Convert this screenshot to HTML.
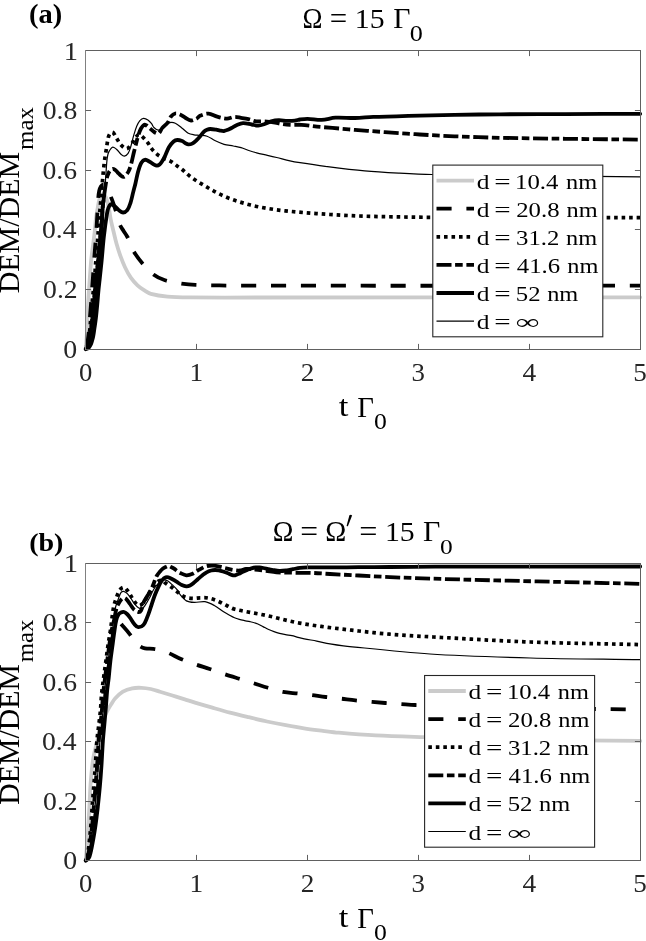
<!DOCTYPE html>
<html><head><meta charset="utf-8"><style>
html,body{margin:0;padding:0;background:#fff;overflow:hidden}
svg{display:block;will-change:transform}
text{font-family:"Liberation Serif",serif;font-kerning:none}
</style></head><body>
<svg width="646" height="941" viewBox="0 0 646 941">
<rect width="646" height="941" fill="#fff"/>
<g fill="none" stroke-linejoin="round" stroke-linecap="round">
<path class="cgray" d="M85.7 349.2C85.9 346.8 86.12 344.4 86.3 342C86.52 339 86.76 336 86.9 333C87.13 328 87.2 323 87.4 318C87.57 313.67 87.75 309.33 88 305C88.29 300 88.66 295 89 290C89.29 285.67 89.58 281.33 89.9 277C90.32 271.33 90.68 265.66 91.2 260C91.51 256.66 91.98 253.33 92.4 250C92.82 246.66 93.28 243.34 93.7 240C94.12 236.67 94.55 233.34 94.9 230C95.32 226.01 95.49 221.98 96 218C96.43 214.65 97.11 211.33 97.7 208C98.17 205.33 98.51 202.61 99.2 200C99.61 198.44 100.15 196.8 101 195.5C101.42 194.86 102.36 194.12 103 194.2C103.76 194.29 104.73 195.21 105.2 196C106.17 197.64 106.76 199.62 107.3 201.5C108.1 204.28 108.66 207.15 109.2 210C109.79 213.08 110.08 216.22 110.7 219.3C111.55 223.49 112.61 227.64 113.6 231.8C114.51 235.64 115.34 239.5 116.4 243.3C117.57 247.47 118.83 251.63 120.3 255.7C121.7 259.59 123.22 263.47 125 267.2C126.72 270.8 128.54 274.43 130.8 277.7C132.71 280.46 135.05 283 137.5 285.3C139.45 287.13 141.73 288.66 144 290.1C146.2 291.49 148.41 293.11 150.9 293.8C156.28 295.28 161.99 296.08 167.6 296.6C175.02 297.28 182.53 297.33 190 297.4C213.33 297.63 236.67 297.51 260 297.5C386.73 297.47 513.47 297.37 640.2 297.3" stroke="#cbcbcb" stroke-width="3.8" stroke-dashoffset="0"/>
<path class="cdash" d="M85.7 349.2C86.2 347.47 86.87 345.77 87.2 344C87.87 340.37 88.32 336.68 88.7 333C89.22 328.01 89.5 323 89.9 318C90.27 313.33 90.65 308.67 91 304C91.35 299.33 91.66 294.67 92 290C92.29 286 92.61 282 92.9 278C93.28 272.67 93.62 267.33 94 262C94.29 258 94.59 254 94.9 250C95.16 246.67 95.45 243.33 95.7 240C95.95 236.67 96.19 233.33 96.4 230C96.72 225 97.02 220 97.3 215C97.58 210 97.71 204.99 98.1 200C98.34 196.99 98.58 193.94 99.2 191C99.55 189.37 100.13 187.66 101 186.3C101.5 185.53 102.49 184.68 103.3 184.6C104.09 184.52 105.2 185.15 105.8 185.8C106.86 186.95 107.62 188.53 108.3 190C109.32 192.19 110.04 194.53 110.9 196.8C111.78 199.13 112.69 201.45 113.5 203.8C114.66 207.18 115.76 210.58 116.8 214C117.86 217.51 118.45 221.22 119.8 224.6C120.71 226.88 122.3 228.88 123.6 231C124.84 233.02 126.29 234.91 127.4 237C128.59 239.25 129.48 241.66 130.5 244C131.58 246.46 132.31 249.12 133.7 251.4C136.24 255.55 139.13 259.59 142.3 263.3C145.7 267.29 149.25 271.39 153.4 274.5C156.81 277.06 160.92 278.98 165 280.3C170.29 282.01 175.96 282.76 181.5 283.6C186.13 284.3 190.82 284.74 195.5 284.9C210.32 285.41 225.17 285.57 240 285.6C373.4 285.84 506.8 285.67 640.2 285.7" stroke="#000" stroke-width="3.8" stroke-dasharray="15.1 14.8" stroke-linecap="butt" stroke-dashoffset="27.48"/>
<path class="cdot" d="M85.7 349.2C86.4 347.47 87.38 345.81 87.8 344C88.64 340.41 89.07 336.68 89.5 333C90.07 328.02 90.37 323 90.8 318C91.2 313.33 91.57 308.66 92 304C92.37 300 92.78 296 93.2 292C93.62 288 94.15 284.01 94.5 280C94.85 276.01 95.01 272 95.3 268C95.61 263.67 95.94 259.33 96.3 255C96.58 251.66 96.92 248.34 97.2 245C97.56 240.67 97.87 236.33 98.2 232C98.63 226.33 99.03 220.66 99.5 215C99.83 211 100.25 207 100.6 203C100.95 199 101.25 195 101.6 191C102.15 184.67 102.69 178.33 103.3 172C103.69 168 104.07 163.99 104.6 160C105.04 156.65 105.65 153.33 106.2 150C106.89 145.83 107.35 141.59 108.3 137.5C108.62 136.13 109.21 134.71 110 133.6C110.44 132.98 111.32 132.35 112 132.3C112.59 132.25 113.39 132.77 113.8 133.3C114.92 134.74 115.63 136.59 116.6 138.2C117.93 140.39 118.97 142.88 120.7 144.7C122.3 146.38 124.78 148.9 126.6 148.7C128.48 148.5 130.29 145.41 131.8 143.5C133.25 141.67 134.05 139.31 135.5 137.5C136.45 136.31 137.79 134.53 139 134.5C140.29 134.47 141.82 136.19 143 137.3C144.79 138.99 146.41 140.93 147.9 142.9C149.28 144.73 150.16 146.93 151.6 148.7C153.39 150.9 155.38 153.05 157.6 154.8C159.52 156.31 161.8 157.4 164 158.5C166.13 159.57 168.53 160.13 170.6 161.3C172.9 162.6 174.93 164.37 177.1 165.9C178.66 167 180.31 168 181.8 169.2C184.98 171.77 187.8 174.8 191.1 177.2C195.27 180.23 199.77 182.84 204.2 185.5C208.47 188.07 212.75 190.67 217.2 192.9C222.01 195.31 226.94 197.57 232 199.4C238.08 201.6 244.33 203.43 250.6 205C256.73 206.53 262.96 207.71 269.2 208.7C276.59 209.88 284.04 210.79 291.5 211.5C304.24 212.72 317.02 213.68 329.8 214.5C341.42 215.25 353.06 215.8 364.7 216.2C376.29 216.6 387.9 216.7 399.5 216.9C409.57 217.07 419.63 217.27 429.7 217.3C499.87 217.53 570.03 217.57 640.2 217.7" stroke="#000" stroke-width="3.7" stroke-dasharray="3.6 3.9" stroke-linecap="butt" stroke-dashoffset="4.61"/>
<path d="M85.7 349.2C86.47 347.63 87.52 346.16 88 344.5C89.08 340.76 89.76 336.86 90.4 333C91.23 328.03 91.81 323.01 92.4 318C92.95 313.34 93.37 308.67 93.8 304C94.23 299.34 94.55 294.66 95 290C95.39 286 95.87 282 96.3 278C96.87 272.67 97.47 267.34 98 262C98.4 258 98.74 254 99.1 250C99.4 246.67 99.68 243.33 100 240C100.28 237 100.61 234 100.9 231C101.25 227.33 101.62 223.67 101.9 220C102.22 215.67 102.3 211.32 102.7 207C103.07 202.99 103.7 199 104.2 195" stroke="#000" stroke-width="3.8" stroke-linecap="butt"/>
<path class="cdashdot" d="M85.7 349.2C86.47 347.63 87.52 346.16 88 344.5C89.08 340.76 89.76 336.86 90.4 333C91.23 328.03 91.81 323.01 92.4 318C92.95 313.34 93.37 308.67 93.8 304C94.23 299.34 94.55 294.66 95 290C95.39 286 95.87 282 96.3 278C96.87 272.67 97.47 267.34 98 262C98.4 258 98.74 254 99.1 250C99.4 246.67 99.68 243.33 100 240C100.28 237 100.61 234 100.9 231C101.25 227.33 101.62 223.67 101.9 220C102.22 215.67 102.3 211.32 102.7 207C103.07 202.99 103.66 198.99 104.2 195C104.69 191.33 105.21 187.66 105.8 184C106.15 181.82 106.48 179.63 107 177.5C107.31 176.23 107.78 175 108.3 173.8C108.78 172.7 109.23 171.49 110 170.6C110.67 169.82 111.69 168.95 112.6 168.8C113.35 168.68 114.31 169.31 115 169.8C115.94 170.47 116.65 171.48 117.5 172.3C118.79 173.55 120 174.92 121.4 176C122 176.46 122.81 176.9 123.5 176.9C124.11 176.9 124.85 176.48 125.3 176C126.52 174.68 127.69 173.13 128.5 171.5C129.59 169.3 130.33 166.88 131 164.5C132.03 160.88 132.71 157.16 133.6 153.5C134.21 150.99 134.86 148.5 135.5 146C136.42 142.43 137.2 138.81 138.3 135.3C139.03 132.98 139.85 130.62 141 128.5C141.75 127.12 142.81 125.45 144 124.8C144.65 124.45 145.77 125.07 146.5 125.5C147.54 126.11 148.36 127.11 149.3 127.9C151.16 129.45 152.87 131.3 154.9 132.5C155.97 133.13 157.7 133.96 158.6 133.4C160.17 132.43 160.89 129.59 162.3 127.9C163.99 125.89 166.32 124.38 167.9 122.3C169.22 120.58 169.63 118.13 171 116.5C172.09 115.2 173.73 113.87 175.3 113.5C176.7 113.17 178.48 113.81 179.9 114.4C181.71 115.15 183.25 116.55 185 117.5C186.99 118.58 189.02 120.3 191.1 120.5C192.88 120.67 194.91 119.49 196.6 118.6C197.88 117.93 198.67 116.36 200 115.8C202.64 114.69 205.71 113.45 208.5 113.6C211.44 113.75 214.24 115.9 217.2 116.7C220.4 117.57 223.74 118.56 227 118.6C229.44 118.63 231.85 117.04 234.3 116.9C236.51 116.77 238.77 117.45 241 117.8C243.47 118.19 245.96 118.53 248.4 119.1C250.96 119.7 253.42 120.9 256 121.3C258.12 121.63 260.34 121.18 262.5 121.3C266.11 121.51 269.72 121.8 273.3 122.3C276.22 122.7 279.08 123.56 282 124C284.65 124.4 287.33 124.69 290 124.8C293.79 124.96 297.61 124.55 301.4 124.8C306.58 125.15 311.73 126.08 316.9 126.6C322.06 127.12 327.23 127.45 332.4 127.9C339.93 128.55 347.46 129.3 355 129.9C364.93 130.7 374.86 131.39 384.8 132.1C396.43 132.93 408.06 133.8 419.7 134.5C431.29 135.2 442.89 135.82 454.5 136.3C469.66 136.92 484.83 137.46 500 137.8C521.9 138.29 543.8 138.52 565.7 138.8C590.53 139.12 615.37 139.33 640.2 139.6" stroke="#000" stroke-width="3.8" stroke-dasharray="15 3.6 7.6 3.7" stroke-linecap="butt" stroke-dashoffset="25.31"/>
<path class="csolid" d="M85.7 349.2C86.3 349 86.97 348.92 87.5 348.6C88.17 348.19 88.8 347.62 89.3 347C89.9 346.25 90.4 345.38 90.8 344.5C91.3 343.38 91.65 342.18 92 341C92.45 339.51 92.91 338.02 93.2 336.5C93.74 333.69 94.09 330.84 94.5 328C94.99 324.67 95.51 321.34 95.9 318C96.44 313.34 96.87 308.67 97.3 304C97.73 299.34 98.05 294.66 98.5 290C98.82 286.66 99.24 283.33 99.6 280C100.31 273.33 101.05 266.67 101.7 260C102.35 253.34 102.83 246.66 103.5 240C103.83 236.66 104.29 233.33 104.7 230C105.05 227.16 105.38 224.33 105.8 221.5C106.35 217.83 106.75 214.1 107.6 210.5C108.01 208.76 108.68 206.96 109.6 205.5C109.98 204.89 110.87 204.14 111.5 204.3C112.87 204.64 114.33 205.98 115.6 207C116.83 207.98 117.74 209.38 119 210.3C120.24 211.21 121.74 212.52 123.1 212.5C124.5 212.48 126.38 211.4 127.3 210.2C128.85 208.17 129.67 205.35 130.5 202.8C131.64 199.31 132.29 195.66 133.2 192.1C133.96 189.13 134.79 186.18 135.5 183.2C136.39 179.48 137.01 175.69 138 172C138.68 169.46 139.43 166.89 140.5 164.5C141.1 163.15 142.02 161.87 143 160.8C143.45 160.31 144.16 159.9 144.8 159.8C145.49 159.7 146.33 159.9 147 160.2C148.43 160.83 149.76 161.76 151.1 162.6C152.09 163.22 152.97 164.07 154 164.6C154.9 165.07 155.95 165.63 156.9 165.6C157.82 165.57 158.85 165 159.6 164.4C160.55 163.63 161.33 162.55 162 161.5C163.16 159.69 164.16 157.74 165.1 155.8C166.46 153.01 167.33 149.95 168.9 147.3C170.16 145.18 171.77 143.07 173.6 141.5C174.6 140.64 176.1 140.06 177.4 140C178.93 139.93 180.62 140.52 182.1 141.1C183.32 141.58 184.33 142.58 185.5 143.2C186.39 143.68 187.33 144.34 188.3 144.4C189.57 144.48 191.04 144.17 192.2 143.6C193.67 142.87 194.96 141.63 196.2 140.5C197.56 139.27 198.79 137.88 200 136.5C201.39 134.92 202.5 133.04 204 131.6C204.83 130.8 205.94 130.25 207 129.8C207.97 129.39 209.05 129.01 210.1 129C212.15 128.98 214.25 129.37 216.3 129.7C217.55 129.9 218.75 130.39 220 130.6C221.32 130.82 222.69 131.13 224 131C225.36 130.86 226.71 130.31 228 129.8C229.21 129.31 230.34 128.62 231.5 128C233.34 127.02 235.08 125.8 237 125C238.92 124.2 240.96 123.27 243 123.2C245.86 123.1 248.8 124.04 251.7 124.5C253.87 124.84 256.05 125.68 258.2 125.6C260.38 125.52 262.59 124.7 264.7 124C266.92 123.27 268.95 121.91 271.2 121.3C273.65 120.64 276.26 120.26 278.8 120.2C281.66 120.14 284.53 120.87 287.4 120.94C289.93 121 292.49 120.89 295 120.6C296.69 120.41 298.31 119.74 300 119.5C302.51 119.14 305.06 118.75 307.6 118.8C312.26 118.89 316.95 120.08 321.6 119.9C326.25 119.72 330.83 117.97 335.5 117.7C341.97 117.33 348.51 118.14 355 118C361.07 117.87 367.13 117.14 373.2 116.9C380.93 116.59 388.67 116.58 396.4 116.36C404.17 116.14 411.93 115.81 419.7 115.6C431.3 115.29 442.9 115 454.5 114.81C469.67 114.56 484.83 114.4 500 114.3C521.9 114.16 543.8 114.18 565.7 114.1C590.53 114.01 615.37 113.9 640.2 113.8" stroke="#000" stroke-width="3.8" stroke-dashoffset="0"/>
<path class="cthin" d="M85.7 349.2C86.67 347.8 88 346.57 88.6 345C89.93 341.5 90.74 337.71 91.5 334C92.58 328.71 93.39 323.35 94.1 318C94.72 313.35 95.07 308.67 95.5 304C95.93 299.34 96.25 294.66 96.7 290C97.09 286 97.57 282 98 278C98.57 272.67 99.17 267.34 99.7 262C100.1 258 100.44 254 100.8 250C101.1 246.67 101.42 243.33 101.7 240C101.98 236.67 102.23 233.33 102.5 230C102.77 226.67 103.13 223.34 103.3 220C103.5 216.01 103.41 212 103.6 208C103.84 203 104.26 198 104.6 193C104.89 188.67 105.2 184.33 105.5 180C105.73 176.67 105.95 173.33 106.2 170C106.45 166.67 106.63 163.32 107 160C107.23 157.99 107.48 155.95 108 154C108.32 152.81 108.86 151.65 109.5 150.6C110.2 149.45 111 148.09 112 147.4C112.5 147.06 113.42 147.23 114 147.5C115.08 148 116.12 148.84 117 149.7C118.35 151.01 119.3 152.77 120.7 154C121.76 154.93 123.21 156.3 124.4 156.2C125.68 156.1 127.25 154.63 128.1 153.4C129.32 151.63 129.94 149.32 130.6 147.2C131.81 143.32 132.55 139.3 133.7 135.4C134.62 132.27 135.54 129.1 136.8 126.1C137.61 124.17 138.55 122.13 139.9 120.6C140.82 119.56 142.31 118.5 143.6 118.4C144.98 118.3 146.65 119.17 147.9 120C149.32 120.94 150.52 122.35 151.6 123.7C152.52 124.85 152.85 126.52 153.9 127.5C155.18 128.69 157.11 130.42 158.6 130.2C160.51 129.92 162.19 127.29 164.1 126C165.89 124.79 167.7 123.2 169.7 122.7C171.43 122.27 173.64 122.49 175.3 123.2C177.67 124.22 179.68 126.27 181.8 127.9C184.01 129.6 185.92 131.84 188.3 133.2C189.95 134.14 192 134.44 193.9 134.8C195.67 135.14 197.5 135.11 199.3 135.3C201.87 135.57 204.6 135.39 207 136.2C209.76 137.13 212.12 139.22 214.8 140.5C217.79 141.92 220.84 143.36 224 144.3C227 145.19 230.21 145.4 233.3 146C235.91 146.5 238.56 146.86 241.1 147.6C243.73 148.36 246.21 149.61 248.8 150.5C251.37 151.38 253.97 152.22 256.6 152.9C260.17 153.82 263.81 154.48 267.4 155.3C270.51 156.01 273.61 156.73 276.7 157.5C281.14 158.6 285.54 159.9 290 160.9C293.3 161.64 296.65 162.19 300 162.7C308.39 163.99 316.78 165.23 325.2 166.3C338.35 167.97 351.51 169.67 364.7 170.9C376.27 171.97 387.89 172.58 399.5 173.2C410.33 173.78 421.16 174.34 432 174.5C501.39 175.54 570.8 176.03 640.2 176.8" stroke="#000" stroke-width="1.2" stroke-dashoffset="0"/>
</g>
<g stroke="#606060" stroke-width="1" fill="none" stroke-linecap="square">
<path d="M85.5 50.5H640.5M85.5 349.5H640.5M640.5 50.5V349.5"/>
<path d="M85.5 50.5V349.5" stroke="#808080"/>
<path d="M196.5 349.5V343.9M196.5 50.5V56.1M307.5 349.5V343.9M307.5 50.5V56.1M418.5 349.5V343.9M418.5 50.5V56.1M529.5 349.5V343.9M529.5 50.5V56.1M85.5 289.5H91.1M640.5 289.5H634.9M85.5 229.5H91.1M640.5 229.5H634.9M85.5 170.5H91.1M640.5 170.5H634.9M85.5 110.5H91.1M640.5 110.5H634.9" stroke-linecap="butt"/>
</g>
<g fill="#262626">
<text transform="translate(63.32 357.95) scale(1.1000 1)" font-size="25.341">0</text>
<text transform="translate(43.11 298.14) scale(1.1000 1)" font-size="25.177">0.2</text>
<text transform="translate(42.01 238.44) scale(1.1000 1)" font-size="25.177">0.4</text>
<text transform="translate(42.41 178.74) scale(1.1000 1)" font-size="25.177">0.6</text>
<text transform="translate(42.64 119.04) scale(1.1000 1)" font-size="25.177">0.8</text>
<text transform="translate(63.66 59.7) scale(1.1000 1)" font-size="25.903">1</text>
<text transform="translate(79.02 381.06) scale(1.0800 1)" font-size="24.748">0</text>
<text transform="translate(189.39 381.3) scale(1.0800 1)" font-size="25.297">1</text>
<text transform="translate(300.84 381.3) scale(1.0800 1)" font-size="25.222">2</text>
<text transform="translate(411.57 381.06) scale(1.0800 1)" font-size="24.856">3</text>
<text transform="translate(522.4 381.3) scale(1.0800 1)" font-size="25.372">4</text>
<text transform="translate(633.16 381.05) scale(1.0800 1)" font-size="25.130">5</text>
</g>
<g fill="#000">
<text transform="translate(302.41 27.9) scale(0.9177 1)" font-size="29.300">Ω</text>
<text transform="translate(329.66 28.84) scale(0.9793 1)" font-size="31.600">=</text>
<text transform="translate(354.78 27.83) scale(1.0612 1)" font-size="28.063">15</text>
<text transform="translate(393.14 27.9) scale(1.0484 1)" font-size="28.406">Γ</text>
<text transform="translate(409.7 40.68) scale(1.1861 1)" font-size="22.080">0</text>
<text transform="translate(28.95 23.02) scale(1.0496 1)" font-size="27.130" font-weight="bold">(a)</text>
<text transform="translate(338.76 415.71) scale(1.1832 1)" font-size="29.332">t</text>
<text transform="translate(357.17 416.9) scale(0.9983 1)" font-size="28.864">Γ</text>
<text transform="translate(374.02 429.28) scale(1.1647 1)" font-size="22.080">0</text>
<text transform="translate(18.82 293.36) rotate(-90) scale(1.0505 1)" font-size="28.552">DEM/DEM</text>
<text transform="translate(33.38 149.92) rotate(-90) scale(1.1181 1)" font-size="22.247">max</text>
</g>
<rect x="432.8" y="165.1" width="170" height="171.7" fill="#fff" stroke="#262626" stroke-width="1.1"/>
<g fill="none">
<path d="M436.5 180.6H474" stroke="#cbcbcb" stroke-width="3.8" stroke-linecap="butt"/>
<path d="M436.5 208.7H474" stroke="#000" stroke-width="3.8" stroke-dasharray="15.1 14.8"  stroke-linecap="butt"/>
<path d="M436.5 236.8H474" stroke="#000" stroke-width="3.7" stroke-dasharray="3.6 3.9"  stroke-linecap="butt"/>
<path d="M436.5 264.9H474" stroke="#000" stroke-width="3.8" stroke-dasharray="15 3.6 7.6 3.7"  stroke-linecap="butt"/>
<path d="M436.5 293H474" stroke="#000" stroke-width="3.8" stroke-linecap="butt"/>
<path d="M436.5 321.1H474" stroke="#000" stroke-width="1.2" stroke-linecap="butt"/>
</g>
<g fill="#000">
<text transform="translate(476.68 188.6) scale(1.2241 1)" font-size="20.800">d</text>
<text transform="translate(494.26 188.6) scale(1.3948 1)" font-size="20.800">=</text>
<text transform="translate(515.12 188.6) scale(1.1900 1)" font-size="20.800">10.4</text>
<text transform="translate(565.99 188.6) scale(1.1716 1)" font-size="20.800">nm</text>
<text transform="translate(476.68 216.7) scale(1.2241 1)" font-size="20.800">d</text>
<text transform="translate(494.26 216.7) scale(1.3948 1)" font-size="20.800">=</text>
<text transform="translate(516.21 216.7) scale(1.1900 1)" font-size="20.800">20.8</text>
<text transform="translate(566.53 216.7) scale(1.1716 1)" font-size="20.800">nm</text>
<text transform="translate(476.68 244.8) scale(1.2241 1)" font-size="20.800">d</text>
<text transform="translate(494.26 244.8) scale(1.3948 1)" font-size="20.800">=</text>
<text transform="translate(516.12 244.8) scale(1.1900 1)" font-size="20.800">31.2</text>
<text transform="translate(566.01 244.8) scale(1.1716 1)" font-size="20.800">nm</text>
<text transform="translate(476.68 272.9) scale(1.2241 1)" font-size="20.800">d</text>
<text transform="translate(494.26 272.9) scale(1.3948 1)" font-size="20.800">=</text>
<text transform="translate(516.82 272.9) scale(1.1900 1)" font-size="20.800">41.6</text>
<text transform="translate(567.34 272.9) scale(1.1716 1)" font-size="20.800">nm</text>
<text transform="translate(476.68 301) scale(1.2241 1)" font-size="20.800">d</text>
<text transform="translate(494.26 301) scale(1.3948 1)" font-size="20.800">=</text>
<text transform="translate(515.86 301) scale(1.1900 1)" font-size="20.800">52</text>
<text transform="translate(547.19 301) scale(1.1716 1)" font-size="20.800">nm</text>
<text transform="translate(476.68 329.1) scale(1.2241 1)" font-size="20.800">d</text>
<text transform="translate(494.26 329.1) scale(1.3948 1)" font-size="20.800">=</text>
<text transform="translate(515.32 329.1) scale(1.6373 1)" font-size="20.800">∞</text>
</g>
<g fill="none" stroke-linejoin="round" stroke-linecap="round">
<path class="cgray" d="M85.7 860.7C86 857.13 86.31 853.57 86.6 850C86.95 845.67 87.31 841.34 87.6 837C87.98 831.34 88.26 825.67 88.6 820C88.9 815 89.23 810 89.5 805C89.86 798.33 90.05 791.66 90.5 785C90.88 779.33 91.39 773.65 92 768C92.39 764.32 92.86 760.64 93.5 757C94.03 753.98 94.79 750.99 95.5 748C96.29 744.66 97.13 741.32 98 738C98.79 734.99 99.62 731.99 100.5 729C101.29 726.32 102.09 723.64 103 721C103.76 718.81 104.58 716.63 105.5 714.5C106.24 712.79 107.1 711.13 108 709.5C108.94 707.8 109.95 706.13 111 704.5C112.31 702.47 113.46 700.26 115.1 698.5C117.43 695.99 119.99 693.44 122.9 691.7C125.69 690.04 129.01 688.97 132.2 688.3C135.17 687.67 138.34 687.68 141.4 687.8C144.51 687.92 147.65 688.36 150.7 689C153.85 689.66 156.91 690.77 160 691.7C164.14 692.94 168.27 694.22 172.4 695.5C176.54 696.78 180.67 698.1 184.8 699.4C188.2 700.47 191.59 701.58 195 702.6C200.49 704.24 205.99 705.83 211.5 707.4C217.66 709.16 223.81 710.96 230 712.6C236.17 714.23 242.39 715.71 248.6 717.2C254.72 718.67 260.84 720.18 267 721.5C273.24 722.84 279.52 724.05 285.8 725.2C291.85 726.31 297.92 727.38 304 728.3C310.28 729.25 316.6 730 322.9 730.8C328.16 731.47 333.42 732.24 338.7 732.7C351.05 733.77 363.42 734.75 375.8 735.4C391.92 736.25 408.06 736.67 424.2 737.2C449.46 738.03 474.73 739.07 500 739.5C546.73 740.3 593.47 740.43 640.2 740.9" stroke="#cbcbcb" stroke-width="3.8" stroke-dashoffset="0"/>
<path class="cdash" d="M85.7 860.7C86.88 858.8 88.4 857.04 89.23 855C90.12 852.81 90.39 850.35 90.85 848C91.49 844.68 92 841.34 92.53 838C93.08 834.51 93.61 831.01 94.08 827.5C94.54 824.01 94.92 820.5 95.32 817C95.7 813.67 96.06 810.34 96.4 807C96.77 803.34 97.08 799.67 97.43 796C97.74 792.67 98.1 789.34 98.38 786C98.69 782.34 98.93 778.67 99.21 775C99.46 771.67 99.75 768.34 99.97 765C100.24 761 100.45 757 100.69 753C100.93 749 101.09 744.99 101.4 741C101.68 737.33 102.1 733.67 102.45 730C102.77 726.67 103.08 723.33 103.4 720C103.71 716.67 104.05 713.34 104.34 710C104.63 706.67 104.86 703.33 105.12 700C105.38 696.67 105.58 693.33 105.92 690C106.26 686.66 106.77 683.34 107.17 680C107.57 676.67 107.93 673.33 108.3 670C108.63 667 108.92 664 109.28 661C109.65 658 110.08 655 110.49 652C110.85 649.33 111.21 646.67 111.58 644C111.91 641.67 112.25 639.33 112.58 637C112.91 634.67 113.02 632.28 113.57 630C113.99 628.28 114.81 626.65 115.5 625C115.89 624.08 116.17 622.99 116.8 622.3C117.23 621.82 118.18 621.23 118.7 621.5C119.91 622.13 120.94 623.8 122 625C124.54 627.9 127.13 630.77 129.5 633.8C131.3 636.1 132.66 638.75 134.5 641C135.93 642.75 137.47 644.53 139.3 645.8C140.97 646.96 143 647.87 145 648.3C147.67 648.87 150.55 648.49 153.3 648.8C155.55 649.06 157.82 649.41 160 650C162.75 650.74 165.48 651.68 168.1 652.8C172.64 654.74 176.94 657.28 181.5 659.2C186.11 661.14 190.87 662.76 195.6 664.4C200.27 666.02 205.02 667.42 209.7 669C214.42 670.59 219.08 672.33 223.8 673.9C228.61 675.5 233.46 676.99 238.3 678.5C243.19 680.02 248.11 681.47 253 683C258.01 684.57 262.97 686.31 268 687.8C272.97 689.27 277.92 690.93 283 691.9C287.86 692.83 292.87 692.95 297.8 693.5C302.14 693.98 306.47 694.46 310.8 695C315.77 695.62 320.73 696.4 325.7 697C330.66 697.6 335.64 698.03 340.6 698.6C345.54 699.17 350.46 699.88 355.4 700.4C360.99 700.98 366.6 701.41 372.2 701.9C376.53 702.28 380.86 702.67 385.2 703C390.53 703.4 395.87 703.75 401.2 704.1C405.9 704.41 410.59 704.84 415.3 705C443.53 705.97 471.76 706.91 500 707.5C541.66 708.37 583.33 708.78 625 709.4C630.07 709.48 635.13 709.53 640.2 709.6" stroke="#000" stroke-width="3.8" stroke-dasharray="15.1 14.8" stroke-linecap="butt" stroke-dashoffset="21.99"/>
<path class="cdot" d="M85.7 860.7C86.23 858.8 86.86 856.92 87.3 855C87.83 852.69 88.31 850.35 88.6 848C89.44 841.19 90.1 834.34 90.7 827.5C91.3 820.68 91.69 813.83 92.2 807C92.72 800 93.27 793 93.8 786C94.33 779 94.92 772 95.4 765C95.95 757 96.23 748.98 96.9 741C97.33 735.88 98.1 730.8 98.7 725.7C99.27 720.8 99.95 715.91 100.4 711C100.92 705.34 101.05 699.65 101.6 694C102.12 688.65 102.91 683.33 103.6 678C104.34 672.33 105.13 666.67 105.9 661C106.67 655.33 107.36 649.66 108.2 644C108.89 639.32 109.82 634.68 110.5 630C111.22 625.01 111.71 619.99 112.4 615C112.81 611.99 113.14 608.95 113.8 606C114.37 603.45 115.23 600.96 116.1 598.5C116.93 596.13 117.74 593.7 118.9 591.5C119.54 590.27 120.43 588.99 121.5 588.2C122.29 587.62 123.65 587.12 124.5 587.4C125.49 587.72 126.25 589.07 127 590C127.91 591.13 128.71 592.37 129.5 593.6C130.88 595.74 132.06 598.01 133.5 600.1C134.56 601.64 135.61 603.35 137 604.5C137.78 605.15 139.13 605.81 140 605.5C141.46 604.98 142.94 603.39 144 602C145.61 599.89 146.67 597.33 148 595C149.33 592.67 150.51 590.23 152 588C153.18 586.23 154.46 584.44 156 583C157.13 581.94 158.57 581.01 160 580.5C160.91 580.18 162.16 580.11 163 580.5C163.96 580.95 164.5 582.29 165.4 583C167.36 584.55 169.58 585.8 171.6 587.3C173.71 588.87 175.67 590.65 177.8 592.2C180.11 593.88 182.32 595.94 184.9 597C187.25 597.97 190.02 598.17 192.6 598.3C195.18 598.43 197.8 597.85 200.4 597.8C202.96 597.75 205.6 597.54 208.1 598C211.26 598.58 214.4 599.69 217.4 600.9C220.6 602.19 223.58 604.01 226.7 605.5C229.45 606.81 232.06 608.56 235 609.3C245.16 611.86 255.71 613.19 266 615.4C276.34 617.62 286.52 620.6 296.9 622.6C307.16 624.57 317.54 625.89 327.9 627.3C338.18 628.69 348.49 629.85 358.8 631C369.12 632.15 379.45 633.37 389.8 634.2C404.28 635.37 418.79 636.19 433.3 637C465.63 638.79 497.95 640.81 530.3 642C566.92 643.34 603.57 643.73 640.2 644.6" stroke="#000" stroke-width="3.7" stroke-dasharray="3.6 3.9" stroke-linecap="butt" stroke-dashoffset="3.69"/>
<path class="cdashdot" d="M85.7 860.7C86.47 858.8 87.44 856.96 88.02 855C88.69 852.73 89.07 850.35 89.44 848C89.96 844.68 90.3 841.33 90.71 838C91.14 834.5 91.59 831.01 91.96 827.5C92.33 824.01 92.6 820.5 92.91 817C93.2 813.67 93.49 810.33 93.77 807C94.08 803.33 94.38 799.67 94.68 796C94.96 792.67 95.24 789.33 95.51 786C95.8 782.33 96.07 778.67 96.35 775C96.6 771.67 96.88 768.34 97.11 765C97.38 761 97.6 757 97.84 753C98.09 749 98.24 744.99 98.58 741C98.89 737.33 99.38 733.67 99.78 730C100.14 726.67 100.51 723.33 100.87 720C101.23 716.67 101.62 713.34 101.92 710C102.22 706.67 102.38 703.33 102.65 700C102.92 696.66 103.18 693.33 103.53 690C103.89 686.66 104.36 683.33 104.78 680C105.2 676.67 105.61 673.33 106.03 670C106.41 667 106.77 664 107.16 661C107.55 658 107.97 655 108.38 652C108.74 649.33 109.07 646.66 109.46 644C109.8 641.66 110.19 639.33 110.55 637C110.92 634.67 111.16 632.31 111.65 630C112.51 625.97 113.71 622.02 114.6 618C115.26 615.02 115.52 611.94 116.3 609C116.75 607.3 117.46 605.64 118.3 604.1C119.26 602.34 120.38 600.56 121.7 599.1C122.28 598.46 123.22 597.85 124 597.8C124.69 597.75 125.57 598.26 126.1 598.8C127.57 600.32 128.72 602.25 130 604C131.38 605.89 132.45 608.13 134.1 609.7C135.25 610.79 136.98 611.83 138.4 612C139.28 612.1 140.55 611.34 141 610.5C142.31 608.07 142.56 604.86 143.7 602.2C144.56 600.19 145.86 598.38 147 596.5C148.13 594.64 149.5 592.92 150.5 591C151.67 588.76 152.53 586.35 153.5 584C154.6 581.35 155.38 578.53 156.7 576C157.55 574.36 158.81 572.92 160 571.5C160.91 570.42 161.89 569.35 163 568.5C163.89 567.82 164.97 567.37 166 566.9C166.8 566.53 167.67 565.98 168.5 566C169.34 566.02 170.19 566.62 171 567C172.05 567.49 173.14 567.95 174.1 568.6C175.21 569.35 176.11 570.41 177.2 571.2C178.14 571.88 179.14 572.53 180.2 573C182.21 573.89 184.3 575.16 186.4 575.3C188.43 575.43 190.68 574.64 192.6 573.8C194.81 572.84 196.66 571.07 198.8 569.9C201.33 568.51 203.87 566.86 206.6 566.1C209.03 565.43 211.76 565.38 214.3 565.6C217.43 565.88 220.51 566.89 223.6 567.6C226.71 568.32 229.77 569.35 232.9 569.9C235.23 570.31 237.66 570.66 240 570.5C242.03 570.36 243.97 569.14 246 569C248.97 568.8 252.01 569.22 255 569.5C258.68 569.85 262.34 570.42 266 570.9C269.47 571.35 272.92 572.06 276.4 572.3C281.55 572.66 286.73 572.6 291.9 572.7C299.13 572.84 306.37 572.75 313.6 573C319.07 573.19 324.53 573.7 330 574C339.6 574.53 349.2 575 358.8 575.5C369.13 576.04 379.46 576.66 389.8 577.1C404.3 577.72 418.8 578.28 433.3 578.7C467.86 579.71 502.43 580.55 537 581.4C571.4 582.25 605.8 583 640.2 583.8" stroke="#000" stroke-width="3.8" stroke-dasharray="15 3.6 7.6 3.7" stroke-linecap="butt" stroke-dashoffset="29.74"/>
<path class="csolid" d="M85.7 860.7C86.27 860.3 86.94 860.01 87.4 859.5C88.21 858.61 89.09 857.63 89.5 856.5C90.49 853.8 90.98 850.85 91.6 848C92.32 844.68 92.91 841.34 93.5 838C94.11 834.51 94.68 831.01 95.2 827.5C95.72 824.01 96.16 820.5 96.6 817C97.02 813.67 97.44 810.34 97.8 807C98.54 800 99.28 793.01 99.9 786C100.52 779.01 101.03 772 101.5 765C102.03 757 102.33 748.99 102.9 741C103.3 735.33 103.9 729.67 104.4 724C104.9 718.33 105.43 712.67 105.9 707C106.37 701.34 106.65 695.66 107.2 690C107.59 685.99 108.26 682.01 108.7 678C109.32 672.34 109.73 666.66 110.4 661C111.07 655.32 111.93 649.67 112.7 644C113.33 639.33 113.9 634.66 114.6 630C115.1 626.66 115.48 623.26 116.3 620C116.78 618.1 117.48 616.12 118.5 614.5C119.05 613.62 120.06 612.93 121 612.5C121.89 612.09 123.08 611.77 124 612C125.08 612.27 126.13 613.19 127 614C128.13 615.05 129.08 616.34 130 617.6C131.58 619.77 132.77 622.28 134.5 624.3C135.51 625.48 136.85 627.09 138.2 627.2C139.82 627.33 142.2 626.3 143.4 625C145.16 623.1 146.04 620.14 147.1 617.6C148.51 614.21 149.61 610.68 150.8 607.2C152.07 603.48 153.13 599.68 154.5 596C155.63 592.98 156.9 590 158.3 587.1C159.4 584.8 160.48 582.39 162 580.4C162.95 579.16 164.3 577.84 165.7 577.4C166.97 577 168.69 577.38 170 577.9C172.29 578.81 174.35 580.41 176.5 581.7C178.28 582.77 179.93 584.12 181.8 585C183.2 585.66 184.79 586.21 186.3 586.3C187.52 586.37 188.88 586.02 190 585.5C191.38 584.86 192.6 583.78 193.8 582.8C195.26 581.61 196.58 580.24 198 579C199.48 577.71 200.95 576.41 202.5 575.2C203.82 574.17 205.14 573.09 206.6 572.3C208.04 571.52 209.62 570.93 211.2 570.5C212.42 570.17 213.73 570.02 215 570C216.26 569.98 217.55 570.17 218.8 570.4C220.22 570.67 221.62 571.08 223 571.5C224.48 571.95 225.96 572.44 227.4 573C229.06 573.64 230.62 574.59 232.3 575.1C233.15 575.36 234.14 575.5 235 575.3C236.61 574.93 238.16 574.09 239.7 573.4C240.99 572.82 242.22 572.1 243.5 571.5C244.72 570.93 245.95 570.4 247.2 569.9C248.62 569.33 250.03 568.71 251.5 568.3C252.9 567.91 254.36 567.64 255.8 567.5C257.02 567.38 258.27 567.42 259.5 567.5C260.77 567.58 262.04 567.78 263.3 568C264.88 568.28 266.43 568.68 268 569C269.33 569.28 270.66 569.57 272 569.8C274.46 570.23 276.92 570.9 279.4 571C281.85 571.1 284.35 570.72 286.8 570.4C288.88 570.12 290.93 569.59 293 569.2C295.33 568.76 297.65 568.18 300 567.9C302.65 567.58 305.33 567.49 308 567.4C310.33 567.32 312.67 567.4 315 567.4C320 567.4 325 567.42 330 567.4C339.6 567.36 349.2 567.26 358.8 567.2C369.13 567.13 379.47 567.07 389.8 567C404.87 566.9 419.93 566.73 435 566.7C503.4 566.56 571.8 566.57 640.2 566.5" stroke="#000" stroke-width="3.8" stroke-dashoffset="0"/>
<path class="cthin" d="M85.7 860.7C86.66 858.8 87.9 857 88.59 855C89.37 852.76 89.69 850.35 90.1 848C90.68 844.68 91.1 841.34 91.56 838C92.05 834.5 92.54 831.01 92.95 827.5C93.36 824.01 93.68 820.5 94.03 817C94.36 813.67 94.69 810.33 95 807C95.34 803.33 95.65 799.67 95.97 796C96.26 792.67 96.58 789.33 96.85 786C97.15 782.33 97.41 778.67 97.69 775C97.94 771.67 98.22 768.34 98.45 765C98.72 761 98.94 757 99.18 753C99.42 749 99.58 744.99 99.9 741C100.2 737.33 100.65 733.67 101.03 730C101.37 726.67 101.72 723.33 102.06 720C102.4 716.67 102.76 713.34 103.05 710C103.34 706.67 103.54 703.33 103.81 700C104.08 696.67 104.3 693.33 104.65 690C105 686.66 105.49 683.33 105.9 680C106.31 676.67 106.7 673.33 107.09 670C107.45 667 107.77 664 108.15 661C108.53 658 108.96 655 109.37 652C109.73 649.33 110.07 646.66 110.45 644C110.78 641.66 111.15 639.33 111.5 637C111.85 634.67 112.26 632.34 112.55 630C113.16 625.01 113.54 619.98 114.2 615C114.56 612.32 114.97 609.63 115.6 607C116.04 605.16 116.77 603.39 117.4 601.6C118.2 599.32 118.95 597.01 119.9 594.8C120.32 593.81 120.76 592.68 121.5 592C122 591.54 122.95 591.22 123.6 591.4C124.88 591.75 126.28 592.62 127.3 593.6C128.75 594.99 129.82 596.83 131 598.5C132.29 600.33 133.31 602.36 134.7 604.1C135.78 605.46 136.96 606.97 138.4 607.8C139.46 608.41 141.11 608.75 142.2 608.4C143.28 608.05 144.17 606.73 144.9 605.7C146.54 603.37 147.93 600.82 149.3 598.3C150.9 595.35 152.07 592.16 153.8 589.3C155.07 587.19 156.62 585.19 158.3 583.4C159.52 582.09 160.98 580.82 162.5 580C163.15 579.65 164.06 579.75 164.8 579.9C165.86 580.12 166.99 580.5 167.9 581.1C169.46 582.13 170.82 583.51 172.2 584.8C173.92 586.41 175.73 587.98 177.2 589.8C178.4 591.28 178.99 593.24 180.2 594.7C182.05 596.94 183.95 599.55 186.4 600.9C188.62 602.12 191.58 602.29 194.2 602.4C197.78 602.55 201.53 601.16 205 601.7C208.23 602.2 211.37 603.92 214.3 605.5C217.57 607.26 220.46 609.7 223.6 611.7C225.69 613.03 227.84 614.29 230 615.5C231.47 616.32 232.95 617.15 234.5 617.8C236.05 618.45 237.68 618.95 239.3 619.4C241.01 619.88 242.76 620.23 244.5 620.6C246.36 621 248.26 621.23 250.1 621.7C252.72 622.37 255.38 623.04 257.9 624C259.68 624.67 261.3 625.73 263 626.6C264.9 627.57 266.76 628.62 268.7 629.5C270.43 630.29 272.21 630.97 274 631.6C275.81 632.24 277.64 632.82 279.5 633.3C281.48 633.82 283.49 634.21 285.5 634.6C287.62 635.01 289.79 635.24 291.9 635.7C293.95 636.14 295.96 636.79 298 637.3C300.09 637.82 302.19 638.37 304.3 638.8C308.42 639.64 312.58 640.28 316.7 641.1C321.14 641.98 325.54 643.12 330 643.9C334.44 644.68 338.91 645.35 343.4 645.8C372.25 648.71 401.08 652.11 430 654C463.38 656.18 496.85 657.09 530.3 658C566.92 658.99 603.57 659.13 640.2 659.7" stroke="#000" stroke-width="1.2" stroke-dashoffset="0"/>
</g>
<g stroke="#606060" stroke-width="1" fill="none" stroke-linecap="square">
<path d="M85.5 563.5H640.5M85.5 860.5H640.5M640.5 563.5V860.5"/>
<path d="M85.5 563.5V860.5" stroke="#808080"/>
<path d="M196.5 860.5V854.9M196.5 563.5V569.1M307.5 860.5V854.9M307.5 563.5V569.1M418.5 860.5V854.9M418.5 563.5V569.1M529.5 860.5V854.9M529.5 563.5V569.1M85.5 801.5H91.1M640.5 801.5H634.9M85.5 741.5H91.1M640.5 741.5H634.9M85.5 682.5H91.1M640.5 682.5H634.9M85.5 622.5H91.1M640.5 622.5H634.9" stroke-linecap="butt"/>
</g>
<g fill="#262626">
<text transform="translate(63.32 869.45) scale(1.1000 1)" font-size="25.341">0</text>
<text transform="translate(43.11 809.8) scale(1.1000 1)" font-size="25.177">0.2</text>
<text transform="translate(42.01 750.26) scale(1.1000 1)" font-size="25.177">0.4</text>
<text transform="translate(42.41 690.72) scale(1.1000 1)" font-size="25.177">0.6</text>
<text transform="translate(42.64 631.18) scale(1.1000 1)" font-size="25.177">0.8</text>
<text transform="translate(63.66 572) scale(1.1000 1)" font-size="25.903">1</text>
<text transform="translate(79.02 891.66) scale(1.0800 1)" font-size="24.748">0</text>
<text transform="translate(189.39 891.9) scale(1.0800 1)" font-size="25.297">1</text>
<text transform="translate(300.84 891.9) scale(1.0800 1)" font-size="25.222">2</text>
<text transform="translate(411.57 891.66) scale(1.0800 1)" font-size="24.856">3</text>
<text transform="translate(522.4 891.9) scale(1.0800 1)" font-size="25.372">4</text>
<text transform="translate(633.16 891.65) scale(1.0800 1)" font-size="25.130">5</text>
</g>
<g fill="#000">
<text transform="translate(272.86 541) scale(0.9259 1)" font-size="30.055">Ω</text>
<text transform="translate(300.23 541.64) scale(0.9997 1)" font-size="31.600">=</text>
<text transform="translate(325.14 541) scale(0.9415 1)" font-size="30.055">Ω</text>
<path d="M349.4 515.3Q350.9 514.3 352.1 515.5L348 526Q347.2 526.6 346.6 525.7Z"/>
<text transform="translate(359.29 541.64) scale(1.0201 1)" font-size="31.600">=</text>
<text transform="translate(384.88 540.63) scale(1.0612 1)" font-size="28.063">15</text>
<text transform="translate(423.04 540.7) scale(1.0552 1)" font-size="28.406">Γ</text>
<text transform="translate(439.93 553.89) scale(1.1778 1)" font-size="21.636">0</text>
<text transform="translate(29.17 551.14) scale(1.0726 1)" font-size="26.138" font-weight="bold">(b)</text>
<text transform="translate(338.76 926.81) scale(1.1832 1)" font-size="29.332">t</text>
<text transform="translate(357.17 928) scale(0.9983 1)" font-size="28.864">Γ</text>
<text transform="translate(374.02 940.38) scale(1.1647 1)" font-size="22.080">0</text>
<text transform="translate(18.82 804.66) rotate(-90) scale(1.0423 1)" font-size="28.552">DEM/DEM</text>
<text transform="translate(33.38 662.32) rotate(-90) scale(1.1181 1)" font-size="22.247">max</text>
</g>
<rect x="424.6" y="675.5" width="170" height="171.7" fill="#fff" stroke="#262626" stroke-width="1.1"/>
<g fill="none">
<path d="M428.3 691H465.8" stroke="#cbcbcb" stroke-width="3.8" stroke-linecap="butt"/>
<path d="M428.3 719.1H465.8" stroke="#000" stroke-width="3.8" stroke-dasharray="15.1 14.8"  stroke-linecap="butt"/>
<path d="M428.3 747.2H465.8" stroke="#000" stroke-width="3.7" stroke-dasharray="3.6 3.9"  stroke-linecap="butt"/>
<path d="M428.3 775.3H465.8" stroke="#000" stroke-width="3.8" stroke-dasharray="15 3.6 7.6 3.7"  stroke-linecap="butt"/>
<path d="M428.3 803.4H465.8" stroke="#000" stroke-width="3.8" stroke-linecap="butt"/>
<path d="M428.3 831.5H465.8" stroke="#000" stroke-width="1.2" stroke-linecap="butt"/>
</g>
<g fill="#000">
<text transform="translate(468.48 699) scale(1.2241 1)" font-size="20.800">d</text>
<text transform="translate(486.06 699) scale(1.3948 1)" font-size="20.800">=</text>
<text transform="translate(506.92 699) scale(1.1900 1)" font-size="20.800">10.4</text>
<text transform="translate(557.79 699) scale(1.1716 1)" font-size="20.800">nm</text>
<text transform="translate(468.48 727.1) scale(1.2241 1)" font-size="20.800">d</text>
<text transform="translate(486.06 727.1) scale(1.3948 1)" font-size="20.800">=</text>
<text transform="translate(508.01 727.1) scale(1.1900 1)" font-size="20.800">20.8</text>
<text transform="translate(558.33 727.1) scale(1.1716 1)" font-size="20.800">nm</text>
<text transform="translate(468.48 755.2) scale(1.2241 1)" font-size="20.800">d</text>
<text transform="translate(486.06 755.2) scale(1.3948 1)" font-size="20.800">=</text>
<text transform="translate(507.92 755.2) scale(1.1900 1)" font-size="20.800">31.2</text>
<text transform="translate(557.81 755.2) scale(1.1716 1)" font-size="20.800">nm</text>
<text transform="translate(468.48 783.3) scale(1.2241 1)" font-size="20.800">d</text>
<text transform="translate(486.06 783.3) scale(1.3948 1)" font-size="20.800">=</text>
<text transform="translate(508.62 783.3) scale(1.1900 1)" font-size="20.800">41.6</text>
<text transform="translate(559.14 783.3) scale(1.1716 1)" font-size="20.800">nm</text>
<text transform="translate(468.48 811.4) scale(1.2241 1)" font-size="20.800">d</text>
<text transform="translate(486.06 811.4) scale(1.3948 1)" font-size="20.800">=</text>
<text transform="translate(507.66 811.4) scale(1.1900 1)" font-size="20.800">52</text>
<text transform="translate(538.99 811.4) scale(1.1716 1)" font-size="20.800">nm</text>
<text transform="translate(468.48 839.5) scale(1.2241 1)" font-size="20.800">d</text>
<text transform="translate(486.06 839.5) scale(1.3948 1)" font-size="20.800">=</text>
<text transform="translate(507.12 839.5) scale(1.6373 1)" font-size="20.800">∞</text>
</g>
</svg>
</body></html>
